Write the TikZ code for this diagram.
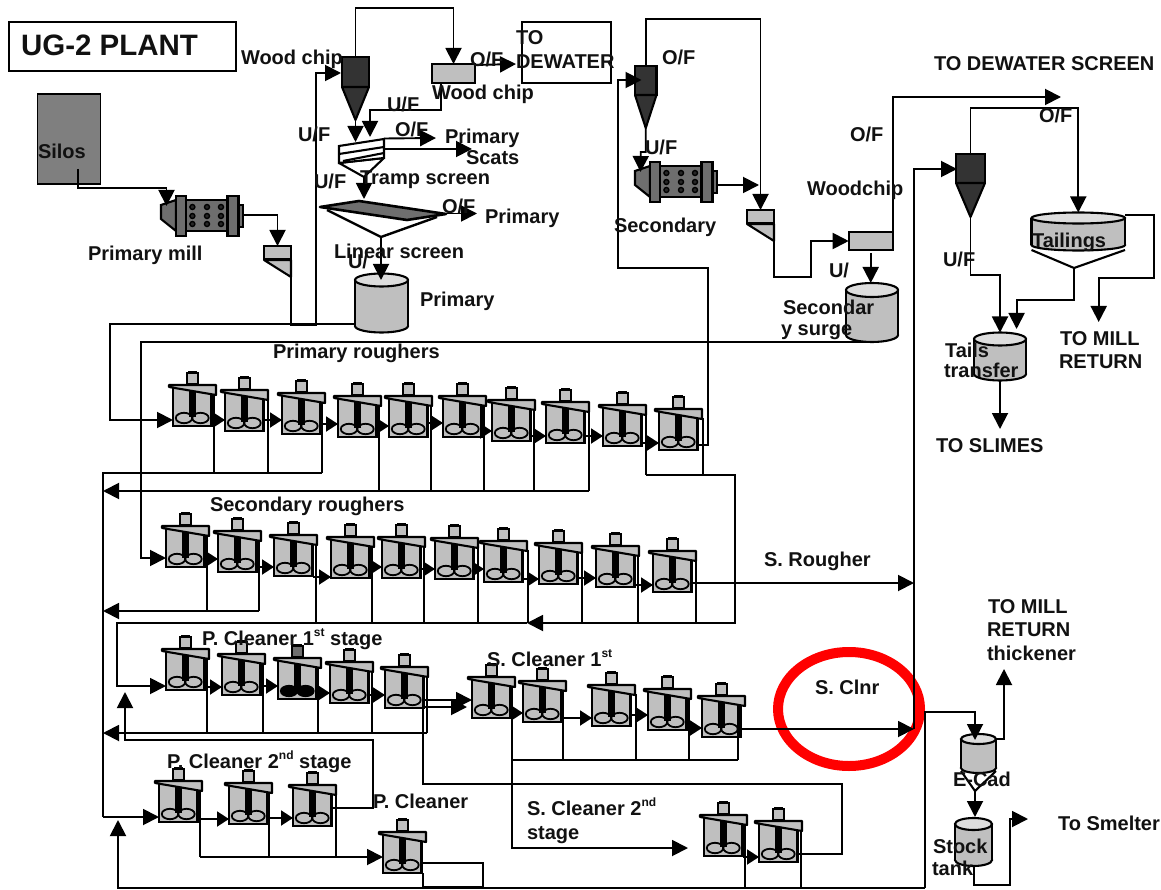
\documentclass[tikz,border=0pt]{standalone}
\usepackage{fontspec}
\setmainfont{Liberation Sans}
\usetikzlibrary{arrows.meta,calc}
\definecolor{eqgray}{HTML}{BFBFBF}
\definecolor{lightgray2}{HTML}{DDDDDD}
\definecolor{silogray}{HTML}{7F7F7F}
\definecolor{drumgray}{HTML}{6E6E6E}
\definecolor{cyc}{HTML}{333333}
\definecolor{ringred}{HTML}{FF0000}
\definecolor{inkc}{HTML}{111111}
\tikzset{
  flow/.style={line width=1.9pt,draw=black,line join=miter},
  arrow/.style={flow,-{Triangle[length=16pt,width=16pt]}},
  shortarrow/.style={flow,-{Triangle[length=12pt,width=15pt]}},
  eq/.style={line width=2.1pt,draw=black},
  cellbody/.style={draw=black,line width=2.1pt,fill=eqgray,minimum width=38.5pt,minimum height=38pt,inner sep=0pt,outer sep=0pt,anchor=south west},
  boxnode/.style={draw=black,line width=2.1pt,fill=eqgray,inner sep=0pt,outer sep=0pt,anchor=north west},
  lab/.style={font=\bfseries\fontsize{20}{22}\selectfont,text=inkc,inner sep=0pt,outer sep=0pt,anchor=base west},
}
\newcounter{lb}
\newcommand\lbl[3]{\stepcounter{lb}\node[lab] (lab\arabic{lb}) at (#1,#2+7) {#3};}
\newcommand\supr[1]{\raisebox{0.42em}{\fontsize{12}{12}\selectfont #1}}
\def\motorfill{eqgray}
% [impeller fill]{name}{left}{bottom}{drop x}
\newcommand\cell[5][none]{%
  \node[cellbody] (#2) at (#3,#4) {};
  \coordinate (#2-d) at (#5,#4-32);
  \begin{scope}[shift={(#3,#4)}]
    \fill[black] (15.5,-40) rectangle (22.5,-9);
    \draw[line width=1.8pt,fill=#1] (11,-8) ellipse [x radius=8.2pt,y radius=5.2pt];
    \draw[line width=1.8pt,fill=#1] (27.5,-8) ellipse [x radius=8.2pt,y radius=5.2pt];
    \draw[eq,fill=eqgray,line join=round] (-4,-41) -- (43,-41) -- (43,-31) -- (-4,-39) -- cycle;
    \draw[eq,fill=\motorfill] (14,-53) rectangle (25,-42);
    \draw[line width=3pt] (15,-54) -- (24,-54);
  \end{scope}}
\newcommand\link[3]{\draw[shortarrow] (#1.east |- 0,#3) -- (#2.west |- 0,#3);}
\newcommand\dropto[2]{\draw[flow] (#1-d) -- (#1-d |- #2);}
% {name}{dx}{dy}
\newcommand\mill[3]{%
  \begin{scope}[shift={(#2,#3)}]
    \draw[eq,fill=drumgray] (161,205) -- (176,200) -- (176,231) -- (161,219) -- cycle;
    \node[boxnode,fill=drumgray,minimum width=41.5pt,minimum height=31pt] (#1) at (186,200) {};
    \draw[eq,fill=drumgray] (176,196) rectangle (186,236);
    \draw[eq,fill=drumgray] (227.5,196) rectangle (238.5,236);
    \draw[eq,fill=drumgray] (238.5,205) rectangle (243,227);
    \foreach \px in {192.4,207,221}\foreach \py in {207,216,224}
      \draw[line width=1.4pt,fill=black!85] (\px,\py) circle [radius=2.5pt];
    \coordinate (#1-in) at (166.5,206);
    \coordinate (#1-out) at (243,215);
  \end{scope}}
% {name}{x}{y}
\newcommand\hopper[3]{%
  \node[boxnode,minimum width=27pt,minimum height=13pt] (#1) at (#2,#3) {};
  \draw[eq,fill=eqgray,line join=round] (#2,#3+14) -- (#2+27,#3+14) -- (#2+27,#3+31) -- cycle;
  \coordinate (#1-top) at (#2+13.5,#3);
  \coordinate (#1-out) at (#2+27,#3+31);}
% {name}{x1}{x2}{ytop}{ymid}{ytip}
\newcommand\cyclone[6]{%
  \node[boxnode,fill=cyc,minimum width=#3pt-#2pt,minimum height=#5pt-#4pt] (#1) at (#2,#4) {};
  \draw[eq,fill=cyc,line join=round] (#2,#5) -- (#3,#5) -- ({(#2+#3)/2},#6) -- cycle;
  \coordinate (#1-top) at ({(#2+#3)/2},#4);
  \coordinate (#1-tip) at ({(#2+#3)/2},#6);}
% {name}{x1}{x2}{ytop centre}{ybottom centre}{ry}
\newcommand\tank[6]{%
  \coordinate (#1-c) at ({(#2+#3)/2},#4);
  \coordinate (#1-b) at ({(#2+#3)/2},#5);
  \coordinate (#1-n) at ({(#2+#3)/2},#4-#6);
  \coordinate (#1-s) at ({(#2+#3)/2},#5+#6);
  \draw[eq,fill=eqgray] (#1-b) ellipse [x radius={(#3-#2)/2*1pt},y radius=#6pt];
  \fill[eqgray] (#2,#4) rectangle (#3,#5);
  \draw[eq] (#2,#4) -- (#2,#5) (#3,#4) -- (#3,#5);
  \draw[eq,fill=lightgray2] (#1-c) ellipse [x radius={(#3-#2)/2*1pt},y radius=#6pt];}
\begin{document}
\begin{tikzpicture}[x=1pt,y=-1pt]
\useasboundingbox (0,0) rectangle (1161,890);
\fill[white] (0,0) rectangle (1161,890);

% highlight ring
\draw[line width=10pt,draw=ringred] (849,709) ellipse [x radius=71pt,y radius=57pt];

% title, silos, dewater box
\node[draw=black,line width=1.8pt,fill=white,inner sep=0pt,outer sep=0pt,anchor=north west,minimum width=227pt,minimum height=49pt] (title) at (9,22) {};
\node[draw=black,line width=1.8pt,fill=silogray,inner sep=0pt,outer sep=0pt,anchor=north west,minimum width=63pt,minimum height=90pt] (silos) at (37.5,94) {};
\node[draw=black,line width=1.8pt,fill=white,inner sep=0pt,outer sep=0pt,anchor=north west,minimum width=89pt,minimum height=61pt] (dewater) at (522,22) {};

% equipment
\mill{mill1}{0}{0}
\mill{mill2}{474}{-34}
\hopper{hop1}{264}{246}
\hopper{hop2}{747}{210}
\cyclone{cyc1}{342}{369}{57}{87}{120}
\cyclone{cyc2}{635}{656.5}{66}{95}{128}
\cyclone{cyc3}{956}{985}{154}{183}{217}
\node[boxnode,minimum width=43pt,minimum height=19pt] (wood1) at (432,64) {};
\node[boxnode,minimum width=44pt,minimum height=18pt] (wood2) at (848.7,232) {};

% tramp screen
\draw[eq,line join=round,fill=white] (339,163) -- (364,177) -- (384,158) -- cycle;
\draw[eq,fill=white] (339,146) -- (384,139) -- (384,158) -- (339,163) -- cycle;
\draw[eq] (339,154) -- (384,147) (343,161) -- (384,153);
\coordinate (tramp-in1) at (357,142);
\coordinate (tramp-in2) at (370,137);
\coordinate (tramp-s) at (364,177);
\coordinate (tramp-o1) at (384,138.5);
\coordinate (tramp-o2) at (384,149);
% linear screen
\draw[line width=2.4pt] (327,210) -- (381,237) -- (437,217);
\draw[line width=2.6pt,fill=drumgray,line join=round] (320,207) -- (359,201) -- (446,214) -- (407,220) -- cycle;
\coordinate (lin-n) at (364,201);
\coordinate (lin-s) at (381,237);
\coordinate (lin-e) at (446,213.5);
% tanks
\tank{tank1}{355}{408}{280}{326}{6.5}
\tank{tank2}{846}{898}{290}{335}{7}
\tank{tails}{974}{1026}{339}{374}{6.5}
\tank{ecad}{961}{996}{739}{768}{5}
\draw[eq,line join=round] (961,771) -- (975,791) -- (996,771);
\tank{stock}{955}{992}{824}{860}{6}
% tailings tank
\tank{tailt}{1031.5}{1125}{218}{245}{5.5}
\draw[eq,line join=round] (1031.5,250) -- (1074,268) -- (1125,250);
\coordinate (tailt-s) at (1074,268);
\coordinate (tailt-e) at (1125,215);

% flotation cells: primary roughers
\cell{p1}{173}{426}{214}
\cell{p2}{225}{431}{268}
\cell{p3}{282}{434}{322}
\cell{p4}{338}{437}{379}
\cell{p5}{389}{437}{431}
\cell{p6}{443}{437}{484}
\cell{p7}{492}{441}{534}
\cell{p8}{546}{443}{589}
\cell{p9}{603}{446}{646}
\cell{p10}{659}{450}{703}
% secondary roughers
\cell{s1}{166}{567}{207}
\cell{s2}{218}{572}{259}
\cell{s3}{274}{576}{316}
\cell{s4}{331}{578}{372}
\cell{s5}{382}{578}{424}
\cell{s6}{435}{579}{478}
\cell{s7}{484}{582}{528}
\cell{s8}{539}{584}{582}
\cell{s9}{596}{587}{638}
\cell{s10}{653}{592}{696}
% P cleaner 1st
\cell{c1}{166}{690}{207}
\cell{c2}{222}{695}{263}
{\def\motorfill{drumgray}\cell[black]{c3}{278}{699}{318}}
\cell{c4}{330}{703}{372}
\cell{c5}{385}{708}{427}
% S cleaner 1st
\cell{d1}{472}{718}{512}
\cell{d2}{523}{722}{563}
\cell{d3}{592}{726}{636}
\cell{d4}{648}{730}{689}
\cell{d5}{702}{737}{738}
% P cleaner 2nd, P cleaner, S cleaner 2nd
\cell{e1}{159}{822}{200}
\cell{e2}{229}{824}{269}
\cell{e3}{293}{826}{336}
\cell{f1}{383}{873}{425}
\cell{g1}{704}{856}{745}
\cell{g2}{759}{862}{801}

% named junctions
\coordinate (busA) at (103,473);
\coordinate (busB) at (103,491);
\coordinate (busS) at (103,611);
\coordinate (busR) at (735,475);
\coordinate (busC) at (527,623);
\coordinate (busP) at (103,733);
\coordinate (busE) at (200,857);
\coordinate (busD) at (512,760);
\coordinate (busBot) at (925,888);
\coordinate (silosOut) at (78,169);
\coordinate (dewIn) at (516,64);
\coordinate (cyc1-in) at (341,73);
\coordinate (cyc2-in) at (641.5,80);
\coordinate (cyc3-in) at (957,169);
\coordinate (mill2-o) at (718,185);
\coordinate (hop2-side) at (759,185);
\coordinate (main) at (914,729);
\coordinate (sro) at (914,583);
\coordinate (dewS) at (1061,97);
\coordinate (slimes) at (1000,429);
\coordinate (tomill) at (1098.7,322);
\coordinate (primS1) at (436,138);
\coordinate (primS2) at (472,149);
\coordinate (primO) at (477,213.5);
\coordinate (thick) at (1004,669);
\coordinate (smelter) at (1028,819);
\coordinate (sc2) at (688,848);
\coordinate (ecad-in) at (975,740);
\coordinate (stock-in) at (975,817);
\coordinate (tank2-in) at (870.7,283);

% connectors, top left
\draw[arrow] (silosOut) -- ++(0,19) -| (mill1-in);
\draw[arrow] (mill1-out) -| (hop1-top);
\draw[arrow] (hop1-out) -- (291,325) -- (316,325) -- (316,73) -- (cyc1-in);
\draw[arrow] (tank1-b) ++(-26,-2) -- (110,324) -- (110,420) -- (p1.west |- 0,420);
\draw[arrow] (cyc1-top) -- ++(0,-49) -| (wood1.north);
\draw[arrow] (wood1.east |- 0,65) -- (dewIn);
\draw[arrow] (441,83) -- (441,110) -| (tramp-in2);
\draw[arrow] (cyc1-tip) -- (cyc1-tip |- tramp-in1);
\draw[arrow] (tramp-o1) -- (primS1);
\draw[arrow] (tramp-o2) -- (primS2);
\draw[arrow] (tramp-s) -- (364,199);
\draw[arrow] (lin-e) -- (primO);
\draw[arrow] (lin-s) -- (lin-s |- tank1-c);

% connectors, top middle and right
\draw[arrow] (tank2-b) ++(0,7) -- (141,342) -- (141,558) -- (s1.west |- 0,558);
\draw[arrow] (p10.east |- 0,445) -- (708,445) -- (708,268) -- (618,268) -- (618,80) -- (cyc2-in);
\draw[arrow] (cyc2-top) -- ++(0,-47) -| (hop2-top);
\draw[arrow] (cyc2-tip) -- ++(0,24) -- ++(-5,0) -- (mill2-in);
\draw[arrow] (mill2-o) -- (hop2-side);
\draw[arrow] (hop2-out) -- (774,277) -- (810.6,277) -- (810.6,241) -- (wood2.west);
\draw[arrow] (wood2.north east) -- (892.7,97) -- (dewS);
\draw[arrow] (tank2-in |- 0,253) -- (tank2-in);
\draw[arrow] (main) -- (914,169) -- (cyc3-in);
\draw[arrow] (cyc3-top) -- ++(0,-46) -| (tailt-n);
\draw[arrow] (cyc3-tip) -- ++(0,58) -| (tails-n);
\draw[arrow] (tailt-s) -- (1074,300) -- (1016.6,300) -- (1016.6,329);
\draw[arrow] (tailt-e) -- (1154,215) -- (1154,278) -- (1098.7,278) -- (tomill);
\draw[arrow] (tails-s) -- (slimes);

% primary rougher links
\link{p1}{p2}{420}\link{p2}{p3}{420}\link{p3}{p4}{424}\link{p4}{p5}{426}\link{p5}{p6}{423}
\link{p6}{p7}{431}\link{p7}{p8}{436}\link{p8}{p9}{436}\link{p9}{p10}{443}
\dropto{p1}{busA}\dropto{p2}{busA}\dropto{p3}{busA}
\draw[flow] (p3-d |- busA) -- (busA) -- (103,817);
\draw[arrow] (103,817) -- (e1.west |- 0,817);
\dropto{p4}{busB}\dropto{p5}{busB}\dropto{p6}{busB}\dropto{p7}{busB}\dropto{p8}{busB}
\draw[arrow] (p8-d |- busB) -- (busB);
\dropto{p9}{busR}\dropto{p10}{busR}
\draw[arrow] (p9-d |- busR) -- (busR) -- (735,623) -- (busC);
\draw[arrow] (busC) -- (117,623) -- (117,686) -- (c1.west |- 0,686);

% secondary rougher links
\link{s1}{s2}{559}\link{s2}{s3}{567}\link{s3}{s4}{577}\link{s4}{s5}{567}\link{s5}{s6}{569}
\link{s6}{s7}{569}\link{s7}{s8}{579}\link{s8}{s9}{578}\link{s9}{s10}{585}
\dropto{s1}{busS}\dropto{s2}{busS}
\draw[arrow] (s2-d |- busS) -- (busS);
\dropto{s3}{busC}\dropto{s4}{busC}\dropto{s5}{busC}\dropto{s6}{busC}\dropto{s7}{busC}\dropto{s8}{busC}\dropto{s9}{busC}\dropto{s10}{busC}
\draw[arrow] (s10.east |- sro) -- (sro);

% P cleaner 1st links
\link{c1}{c2}{687}\link{c2}{c3}{686}\link{c3}{c4}{693}\link{c4}{c5}{695}
\dropto{c1}{busP}\dropto{c2}{busP}\dropto{c3}{busP}\dropto{c4}{busP}\dropto{c5}{busP}
\draw[arrow] (c5-d |- busP) -- (busP);
\draw[arrow] (c5.east |- 0,700) -- (d1.west |- 0,700);
\draw[arrow] (g2.east |- 0,854) -- (842,854) -- (842,784) -- (423,784) -- (423,707) -- (467,707);
\draw[arrow] (e3.east |- 0,808) -- (373,808) -- (373,740) -- (125,740) -- (125,692);

% S cleaner 1st links
\link{d1}{d2}{713}\link{d2}{d3}{718}\link{d3}{d4}{715}\link{d4}{d5}{728}
\dropto{d2}{busD}\dropto{d3}{busD}\dropto{d4}{busD}\dropto{d5}{busD}
\draw[flow] (d5-d |- busD) -- (busD);
\draw[arrow] (d1-d) -- (512,848) -- (sc2);
\draw[arrow] (d5.east |- main) -- (main);

% P cleaner 2nd and P cleaner
\link{e1}{e2}{819}\link{e2}{e3}{818}
\dropto{e1}{busE}\dropto{e2}{busE}\dropto{e3}{busE}
\draw[arrow] (busE) -- (f1.west |- busE);
\draw[flow] (f1.east |- 0,863) -- (483,863) -- (483,888);
\draw[flow] (423,873) -- (423,888);
\draw[line width=2.6pt] (423,887.5) -- (483,887.5);

% S cleaner 2nd
\link{g1}{g2}{857}
\dropto{g1}{busBot}\dropto{g2}{busBot}
\draw[arrow] (busBot) -- (118,888) -- (118,820);
\draw[arrow] (busBot) -- (925,712) -| (ecad-in);
\draw[arrow] (ecad-c -| 996,0) -- (1004,739) -- (thick);
\draw[arrow] (975,791) -- (stock-in);
\draw[arrow] (974,866) -- (974,885) -- (1010,885) -- (1010,819) -- (smelter);

% labels
\node[lab,font=\bfseries\fontsize{29.5}{32}\selectfont] (titletext) at (21,56) {UG-2 PLANT};
\lbl{38}{152}{Silos}
\lbl{88}{254}{Primary mill}
\lbl{241}{58}{Wood chip}
\lbl{470}{60}{O/F}
\lbl{516}{38}{TO}
\lbl{516}{62}{DEWATER}
\lbl{432}{93}{Wood chip}
\lbl{387}{105}{U/F}
\lbl{298}{135}{U/F}
\lbl{395}{130}{O/F}
\lbl{445}{137}{Primary}
\lbl{466}{158}{Scats}
\lbl{360}{178}{Tramp screen}
\lbl{314}{182}{U/F}
\lbl{442}{207}{O/F}
\lbl{485}{217}{Primary}
\lbl{334}{252}{Linear screen}
\lbl{348}{262}{U/}
\lbl{420}{300}{Primary}
\lbl{273}{352}{Primary roughers}
\lbl{662}{58}{O/F}
\lbl{645}{148}{U/F}
\lbl{614}{226}{Secondary}
\lbl{807}{189}{Woodchip}
\lbl{850}{135}{O/F}
\lbl{829}{271}{U/}
\lbl{783}{308}{Secondar}
\lbl{781}{328}{y surge}
\lbl{934}{64}{TO DEWATER SCREEN}
\lbl{1039}{116}{O/F}
\lbl{943}{260}{U/F}
\lbl{1032}{241}{Tailings}
\lbl{945}{350}{Tails}
\lbl{944}{370}{transfer}
\lbl{1060}{338}{TO MILL}
\lbl{1059}{361}{RETURN}
\lbl{936}{445}{TO SLIMES}
\lbl{210}{504}{Secondary roughers}
\lbl{764}{559}{S. Rougher}
\lbl{202}{638}{P. Cleaner 1\supr{st} stage}
\lbl{487}{659}{S. Cleaner 1\supr{st}}
\lbl{815}{687}{S. Clnr}
\lbl{167}{761}{P. Cleaner 2\supr{nd} stage}
\lbl{373}{801}{P. Cleaner}
\lbl{527}{808}{S. Cleaner 2\supr{nd}}
\lbl{527}{832}{stage}
\lbl{988}{606}{TO MILL}
\lbl{987}{629}{RETURN}
\lbl{987}{653}{thickener}
\lbl{953}{779}{E-Cad}
\lbl{933}{846}{Stock}
\lbl{932}{868}{tank}
\lbl{1058}{823}{To Smelter}
\end{tikzpicture}
\end{document}
